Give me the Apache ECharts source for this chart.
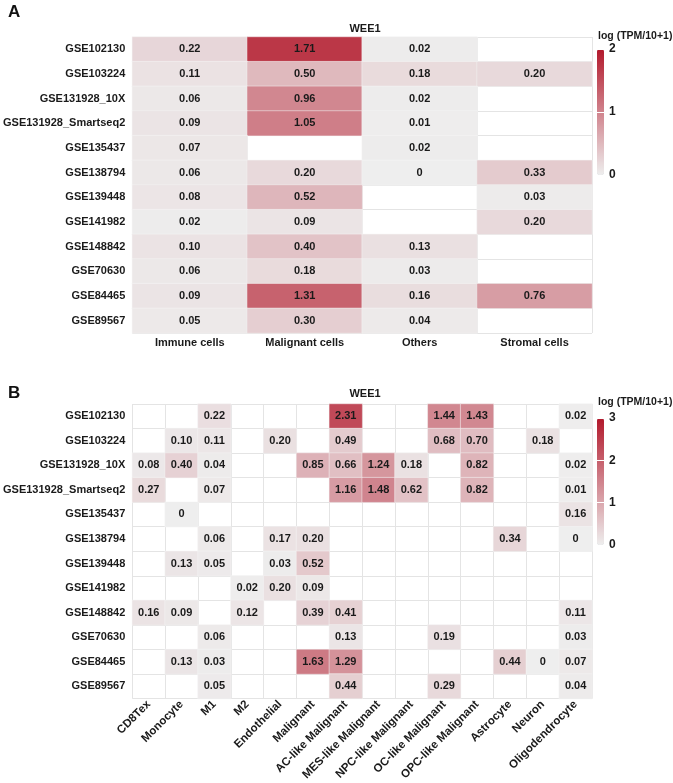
<!DOCTYPE html>
<html><head><meta charset="utf-8">
<script src="https://cdn.jsdelivr.net/npm/echarts@6/dist/echarts.min.js"></script>
<style>html,body{margin:0;padding:0;background:#fff}#c{width:673px;height:783px}</style>
</head><body><div id="c"></div>
<script>
const datasets = ['GSE102130','GSE103224','GSE131928_10X','GSE131928_Smartseq2','GSE135437','GSE138794','GSE139448','GSE141982','GSE148842','GSE70630','GSE84465','GSE89567'];
const colsA = ['Immune cells','Malignant cells','Others','Stromal cells'];
const valuesA = [
  [0.22,1.71,0.02,null],
  [0.11,0.50,0.18,0.20],
  [0.06,0.96,0.02,null],
  [0.09,1.05,0.01,null],
  [0.07,null,0.02,null],
  [0.06,0.20,0,0.33],
  [0.08,0.52,null,0.03],
  [0.02,0.09,null,0.20],
  [0.10,0.40,0.13,null],
  [0.06,0.18,0.03,null],
  [0.09,1.31,0.16,0.76],
  [0.05,0.30,0.04,null]
];
const colsB = ['CD8Tex','Monocyte','M1','M2','Endothelial','Malignant','AC-like Malignant','MES-like Malignant','NPC-like Malignant','OC-like Malignant','OPC-like Malignant','Astrocyte','Neuron','Oligodendrocyte'];
const valuesB = [
  [null,null,0.22,null,null,null,2.31,null,null,1.44,1.43,null,null,0.02],
  [null,0.10,0.11,null,0.20,null,0.49,null,null,0.68,0.70,null,0.18,null],
  [0.08,0.40,0.04,null,null,0.85,0.66,1.24,0.18,null,0.82,null,null,0.02],
  [0.27,null,0.07,null,null,null,1.16,1.48,0.62,null,0.82,null,null,0.01],
  [null,0,null,null,null,null,null,null,null,null,null,null,null,0.16],
  [null,null,0.06,null,0.17,0.20,null,null,null,null,null,0.34,null,0],
  [null,0.13,0.05,null,0.03,0.52,null,null,null,null,null,null,null,null],
  [null,null,null,0.02,0.20,0.09,null,null,null,null,null,null,null,null],
  [0.16,0.09,null,0.12,null,0.39,0.41,null,null,null,null,null,null,0.11],
  [null,null,0.06,null,null,null,0.13,null,null,0.19,null,null,null,0.03],
  [null,0.13,0.03,null,null,1.63,1.29,null,null,null,null,0.44,0,0.07],
  [null,null,0.05,null,null,null,0.44,null,null,0.29,null,null,null,0.04]
];
const geneTitle = 'WEE1';
const legendTitle = 'log (TPM/10+1)';
const maxA = 2, maxB = 3;

function toCells(vals){
  const out = [];
  vals.forEach((row, r) => row.forEach((v, c) => { if (v !== null) out.push([c, r, v]); }));
  return out;
}
const FONT = 'Liberation Sans, Arial, sans-serif';
const txt = {fontFamily: FONT, fontWeight: 'bold', fontSize: 11, color: '#1a1a1a'};
const gridLine = {show: true, lineStyle: {color: '#E4E4E4', width: 1}};
const colors = ['#EEEEEE', '#B2182B'];

function catX(idx, data, extra){
  return Object.assign({type:'category', gridIndex: idx, data, position:'bottom',
    axisLine:{show:false}, axisTick:{show:false}, splitLine: gridLine,
    axisLabel: Object.assign({}, txt, {interval:0, margin:4})}, extra || {});
}
function catY(idx, data){
  return {type:'category', gridIndex: idx, data, inverse:true,
    axisLine:{show:false}, axisTick:{show:false}, splitLine: gridLine,
    axisLabel: Object.assign({}, txt, {interval:0, margin:7})};
}
function legendAxisY(idx, max){
  return {type:'value', gridIndex: idx, min:0, max, interval:1, position:'right', z: 10,
    axisLine:{show:false}, axisTick:{show:false},
    splitLine:{show:true, lineStyle:{color:'#ffffff', width:1}},
    axisLabel: Object.assign({}, txt, {margin:5, fontSize:12})};
}
const labelFmt = p => p.value[2] === 0 ? '0' : p.value[2].toFixed(2);

const option = {
  animation: false,
  backgroundColor: '#fff',
  title: [
    {text:'A', left:3, top:-1, textStyle:{fontFamily:FONT, fontWeight:'bold', fontSize:17, color:'#111'}},
    {text:geneTitle, left:360, top:18, textAlign:'center', textStyle:Object.assign({}, txt, {fontSize:11})},
    {text:legendTitle, left:593, top:26, textStyle:Object.assign({}, txt, {fontSize:10.5})},
    {text:'B', left:3, top:380, textStyle:{fontFamily:FONT, fontWeight:'bold', fontSize:17, color:'#111'}},
    {text:geneTitle, left:360, top:383, textAlign:'center', textStyle:Object.assign({}, txt, {fontSize:11})},
    {text:legendTitle, left:593, top:392, textStyle:Object.assign({}, txt, {fontSize:10.5})}
  ],
  grid: [
    {left:128, top:37, width:464, height:296},
    {left:128, top:404, width:464, height:304},
    {left:597, top:49, width:7, height:126},
    {left:597, top:418, width:7, height:127}
  ],
  xAxis: [
    catX(0, colsA),
    catX(1, colsB, {axisLabel: Object.assign({}, txt, {interval:0, rotate:45, margin:4, fontSize:11.5})}),
    {type:'value', gridIndex:2, show:false},
    {type:'value', gridIndex:3, show:false}
  ],
  yAxis: [
    catY(0, datasets),
    catY(1, datasets),
    legendAxisY(2, maxA),
    legendAxisY(3, maxB)
  ],
  visualMap: [
    {type:'continuous', seriesIndex:0, min:0, max:maxA, calculable:false, left:597, top:49,
     itemWidth:7, itemHeight:126, padding:0, text:null, showLabel:false, inRange:{color:colors}, z:2},
    {type:'continuous', seriesIndex:1, min:0, max:maxB, calculable:false, left:597, top:418,
     itemWidth:7, itemHeight:127, padding:0, text:null, showLabel:false, inRange:{color:colors}, z:2}
  ],
  series: [
    {type:'heatmap', xAxisIndex:0, yAxisIndex:0, data: toCells(valuesA),
     itemStyle:{borderColor:'#F4F4F4', borderWidth:0.5},
     label:Object.assign({show:true, formatter:labelFmt}, txt), emphasis:{disabled:true}},
    {type:'heatmap', xAxisIndex:1, yAxisIndex:1, data: toCells(valuesB),
     itemStyle:{borderColor:'#F4F4F4', borderWidth:0.5},
     label:Object.assign({show:true, formatter:labelFmt}, txt), emphasis:{disabled:true}}
  ]
};
const chart = echarts.init(document.getElementById('c'), null, {renderer:'canvas'});
chart.setOption(option);
</script></body></html>
